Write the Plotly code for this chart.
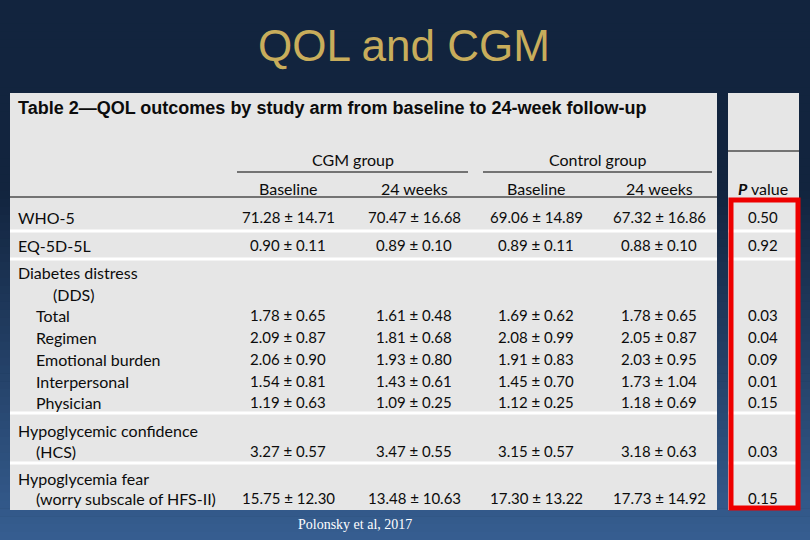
import plotly.graph_objects as go

# ---------------- data ----------------
slide_title = "QOL and CGM"
table_title = "Table 2\u2014QOL outcomes by study arm from baseline to 24-week follow-up"
group_labels = ["CGM group", "Control group"]
time_labels = ["Baseline", "24 weeks", "Baseline", "24 weeks"]
p_header = "value"
source_note = "Polonsky et al, 2017"

row_labels = ["WHO-5", "EQ-5D-5L", "Diabetes distress", "(DDS)", "Total", "Regimen",
              "Emotional burden", "Interpersonal", "Physician",
              "Hypoglycemic confidence", "(HCS)", "Hypoglycemia fear",
              "(worry subscale of HFS-II)"]

data_rows = ["WHO-5", "EQ-5D-5L", "Total", "Regimen", "Emotional burden",
             "Interpersonal", "Physician", "(HCS)", "(worry subscale of HFS-II)"]
cgm_base_mean = [71.28, 0.90, 1.78, 2.09, 2.06, 1.54, 1.19, 3.27, 15.75]
cgm_base_sd = [14.71, 0.11, 0.65, 0.87, 0.90, 0.81, 0.63, 0.57, 12.30]
cgm_24_mean = [70.47, 0.89, 1.61, 1.81, 1.93, 1.43, 1.09, 3.47, 13.48]
cgm_24_sd = [16.68, 0.10, 0.48, 0.68, 0.80, 0.61, 0.25, 0.55, 10.63]
ctl_base_mean = [69.06, 0.89, 1.69, 2.08, 1.91, 1.45, 1.12, 3.15, 17.30]
ctl_base_sd = [14.89, 0.11, 0.62, 0.99, 0.83, 0.70, 0.25, 0.57, 13.22]
ctl_24_mean = [67.32, 0.88, 1.78, 2.05, 2.03, 1.73, 1.18, 3.18, 17.73]
ctl_24_sd = [16.86, 0.10, 0.65, 0.87, 0.95, 1.04, 0.69, 0.63, 14.92]
p_values = [0.50, 0.92, 0.03, 0.04, 0.09, 0.01, 0.15, 0.03, 0.15]

# ---------------- layout / style ----------------
W, H = 810, 540
row_y = [217, 245, 272, 294, 315, 337, 359, 381, 402, 430, 451, 478, 498]
row_x = [16, 16, 16, 51, 34, 34, 34, 34, 34, 16, 34, 16, 34]
col_x = [288, 414, 536, 659]
p_x = 763
body_font = "Lato"
txt_col = "#0c0c0c"
panel_col = "#e6e6e6"

fig = go.Figure()
fig.add_trace(go.Scatter(x=[0, W], y=[0, H], mode="markers",
                         marker=dict(opacity=0), hoverinfo="skip", showlegend=False))

shapes = []
# background gradient
def lerp(a, b, t):
    return int(round(a + (b - a) * t))
top = (18, 36, 62)
bot = (54, 94, 145)
n = 68
for i in range(n):
    y0 = i * H / n
    y1 = (i + 1) * H / n + 0.6
    yc = (y0 + y1) / 2
    t = 0 if yc < 190 else (yc - 190) / (H - 190)
    c = tuple(lerp(top[k], bot[k], t) for k in range(3))
    shapes.append(dict(type="rect", xref="x", yref="y", x0=0, x1=W, y0=y0, y1=y1,
                       fillcolor="rgb(%d,%d,%d)" % c, line=dict(width=0), layer="below"))

# panels
shapes.append(dict(type="rect", xref="x", yref="y", x0=10, x1=717, y0=93, y1=510,
                   fillcolor=panel_col, line=dict(width=0), layer="below"))
shapes.append(dict(type="rect", xref="x", yref="y", x0=728, x1=799, y0=93, y1=510,
                   fillcolor=panel_col, line=dict(width=0), layer="below"))

# white separators
for ys in [231, 259, 413, 463]:
    for (a, b) in [(10, 717), (728, 799)]:
        shapes.append(dict(type="line", xref="x", yref="y", x0=a, x1=b, y0=ys, y1=ys,
                           line=dict(color="white", width=3), layer="below"))

# black rules
shapes.append(dict(type="line", xref="x", yref="y", x0=237, x1=468, y0=172, y1=172,
                   line=dict(color="black", width=1)))
shapes.append(dict(type="line", xref="x", yref="y", x0=483, x1=712, y0=172, y1=172,
                   line=dict(color="black", width=1)))
shapes.append(dict(type="line", xref="x", yref="y", x0=10, x1=717, y0=197, y1=197,
                   line=dict(color="black", width=1)))
shapes.append(dict(type="line", xref="x", yref="y", x0=728, x1=799, y0=151, y1=151,
                   line=dict(color="black", width=1)))

# red highlight
shapes.append(dict(type="rect", xref="x", yref="y", x0=731, x1=798, y0=200, y1=508,
                   line=dict(color="#ee0000", width=5), fillcolor="rgba(0,0,0,0)"))

ann = []
def t(x, y, s, size=15, color=txt_col, xanchor="center", family=body_font, **kw):
    ann.append(dict(x=x, y=y, xref="x", yref="y", text=s, showarrow=False,
                    xanchor=xanchor, yanchor="middle",
                    font=dict(size=size, color=color, family=family), **kw))

t(404, 45, slide_title, size=44, color="#c8ad5b", family="Liberation Sans")
t(16, 108, "<b>" + table_title + "</b>", size=18, xanchor="left", family="Liberation Sans")
t(353, 159, group_labels[0], size=16)
t(597, 159, group_labels[1], size=16)
for x, s in zip(col_x, time_labels):
    t(x, 188, s, size=16)
t(p_x, 188, "<b><i>P</i></b> " + p_header, size=16)

for lbl, x, y in zip(row_labels, row_x, row_y):
    t(x, y, lbl, xanchor="left", size=16)

groups = [(cgm_base_mean, cgm_base_sd), (cgm_24_mean, cgm_24_sd),
          (ctl_base_mean, ctl_base_sd), (ctl_24_mean, ctl_24_sd)]
for i, lbl in enumerate(data_rows):
    y = row_y[row_labels.index(lbl)]
    for x, (m, s) in zip(col_x, groups):
        t(x, y, "%.2f \u00b1 %.2f" % (m[i], s[i]))
    t(p_x, y, "%.2f" % p_values[i])

t(355, 524, source_note, size=14, color="white", family="Liberation Serif")

fig.update_layout(
    width=W, height=H, margin=dict(l=0, r=0, t=0, b=0),
    paper_bgcolor="#12243e", plot_bgcolor="rgba(0,0,0,0)",
    xaxis=dict(range=[0, W], visible=False, fixedrange=True),
    yaxis=dict(range=[H, 0], visible=False, fixedrange=True),
    shapes=shapes, annotations=ann, showlegend=False,
)
fig.write_html("out.html", config={"displayModeBar": False},
               post_script="document.body.style.margin='0';document.body.style.overflow='hidden';")
